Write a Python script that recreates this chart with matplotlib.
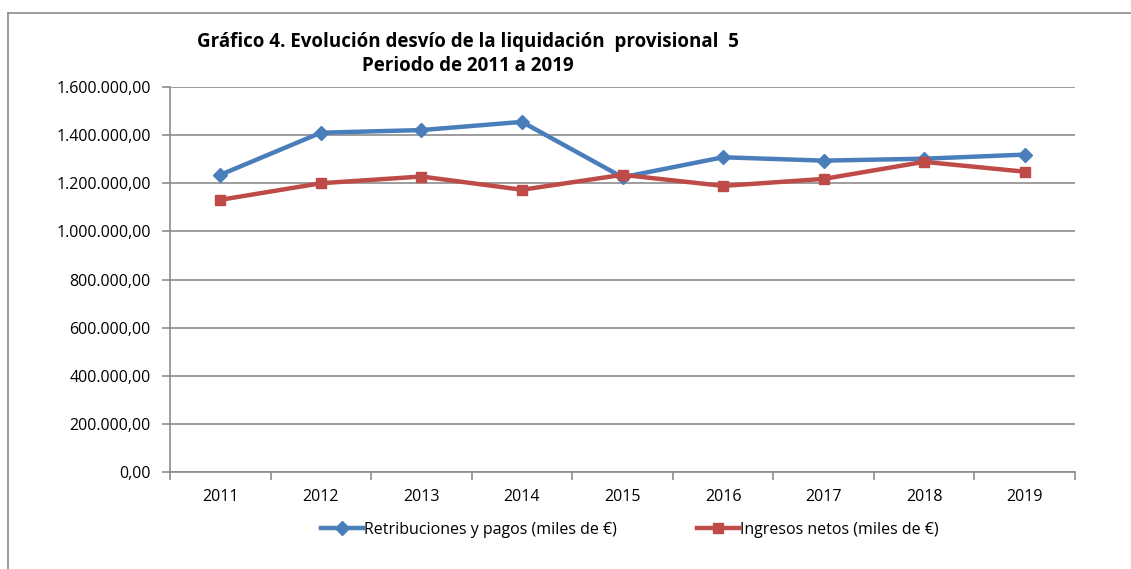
import matplotlib

matplotlib.use("Agg")
import matplotlib.pyplot as plt
from matplotlib.lines import Line2D
from matplotlib.ticker import FuncFormatter, MultipleLocator

years = ["2011", "2012", "2013", "2014", "2015", "2016", "2017", "2018", "2019"]
retribuciones = [1235000, 1410000, 1421000, 1455000, 1225000, 1308000, 1294000, 1302000, 1319000]
ingresos = [1131000, 1200000, 1228000, 1173000, 1235000, 1189000, 1218000, 1289000, 1248000]

BLUE = "#4a7ebb"
RED = "#be4b48"
GRID = "#8c8c8c"

plt.rcParams["font.family"] = ["Open Sans", "DejaVu Sans"]


def es_fmt(v, _pos):
    s = f"{v:,.2f}"
    return s.replace(",", "X").replace(".", ",").replace("X", ".")


fig = plt.figure(figsize=(11.31, 5.69), dpi=100)
ax = fig.add_axes([170 / 1131, 1 - 472 / 569, (1075 - 170) / 1131, (472 - 87) / 569])

x = list(range(len(years)))
ax.plot(x, retribuciones, color=BLUE, lw=3.2, marker="D", ms=7, mec=BLUE, mfc=BLUE,
        label="Retribuciones y pagos (miles de €)", zorder=3)
ax.plot(x, ingresos, color=RED, lw=3.2, marker="s", ms=7, mec=RED, mfc=RED,
        label="Ingresos netos (miles de €)", zorder=3)

ax.set_xlim(-0.5, len(years) - 0.5)
ax.set_ylim(0, 1600000)
ax.yaxis.set_major_locator(MultipleLocator(200000))
ax.yaxis.set_major_formatter(FuncFormatter(es_fmt))
ax.grid(axis="y", color=GRID, lw=1.2)
ax.set_axisbelow(True)

ax.set_xticks(x)
ax.set_xticklabels(years)
ax.set_xticks([i - 0.5 for i in range(len(years) + 1)], minor=True)
ax.tick_params(axis="x", which="major", length=0, pad=12, labelsize=11.5)
ax.tick_params(axis="x", which="minor", length=6, color=GRID, width=1.2)
ax.tick_params(axis="y", length=6, color=GRID, width=1.2, labelsize=11.5, pad=8)

for side in ("top", "right"):
    ax.spines[side].set_visible(False)
for side in ("left", "bottom"):
    ax.spines[side].set_color(GRID)
    ax.spines[side].set_linewidth(1.2)

fig.text(468 / 1131, 1 - 54 / 569, "Gráfico 4. Evolución desvío de la liquidación  provisional  5\nPeriodo de 2011 a 2019",
         ha="center", va="center", fontsize=13.5, fontweight="bold", linespacing=1.3)

ax.legend(loc="center", bbox_to_anchor=(630 / 1131, 1 - 530 / 569), bbox_transform=fig.transFigure,
          ncol=2, frameon=False, fontsize=11.5, handlelength=2.6, columnspacing=5.0, handletextpad=0.1)

# outer chart border (top and left edges visible)
fig.add_artist(Line2D([8 / 1131, 1.0], [1 - 13 / 569, 1 - 13 / 569], transform=fig.transFigure, color=GRID, lw=1.2))
fig.add_artist(Line2D([8 / 1131, 8 / 1131], [0, 1 - 13 / 569], transform=fig.transFigure, color=GRID, lw=1.2))

fig.savefig("out.png", dpi=100)
